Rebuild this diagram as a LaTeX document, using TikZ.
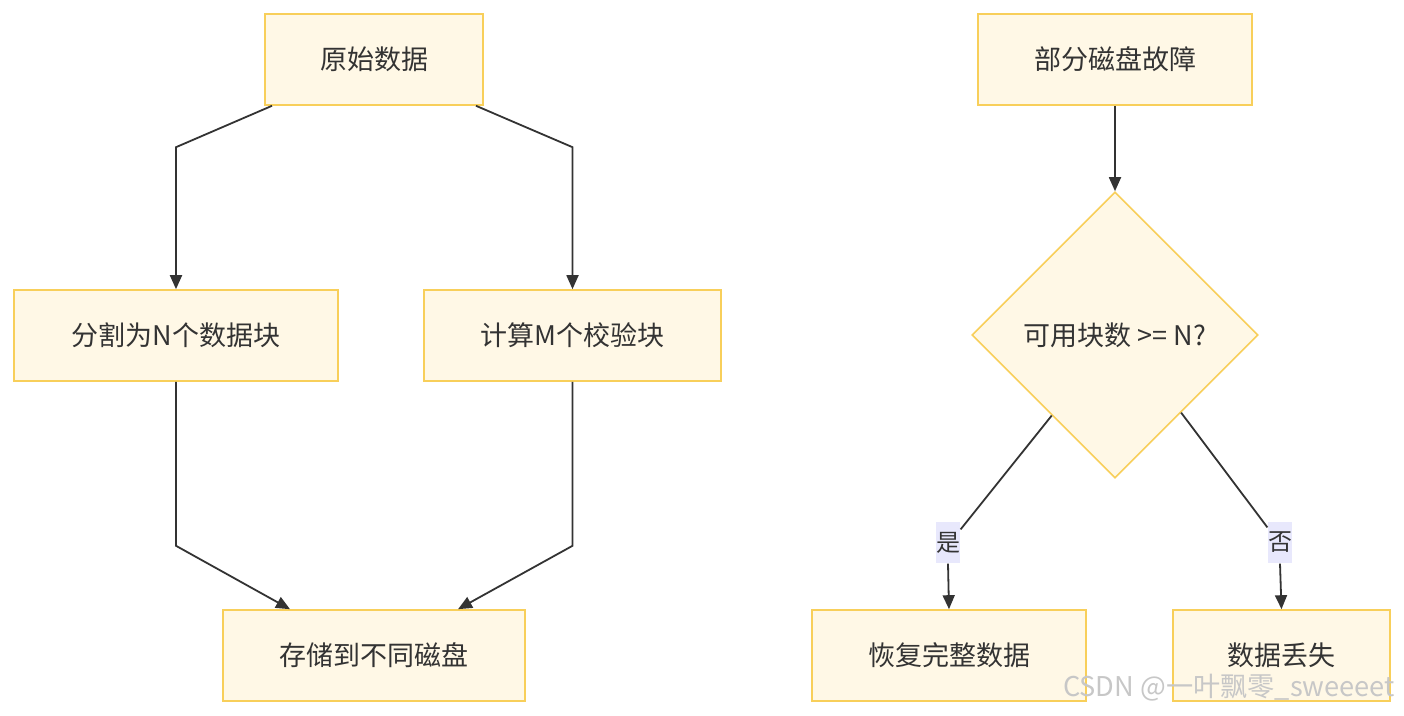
\documentclass[tikz,border=0pt]{standalone}
\usepackage{fontspec}
\setmainfont{Noto Sans CJK SC}
\usetikzlibrary{arrows.meta,positioning,calc,shapes.geometric}

\definecolor{boxfill}{HTML}{FFF8E6}
\definecolor{boxline}{HTML}{F8CF5A}
\definecolor{ink}{HTML}{333333}
\definecolor{lblfill}{HTML}{E8E8FC}

\begin{document}
\begin{tikzpicture}[x=0.5pt, y=-0.5pt, >={Triangle[length=7pt,width=6pt]}, semithick]
\tikzstyle{proc}=[draw=boxline, fill=boxfill, line width=0.8pt, text=ink, font=\fontsize{13.5}{16}\selectfont, minimum height=45.5pt, inner sep=0pt]
\tikzstyle{decision}=[diamond, draw=boxline, fill=boxfill, line width=0.8pt, text=ink, font=\fontsize{13.5}{16}\selectfont, minimum width=143pt, minimum height=143pt, inner sep=0pt]
\tikzstyle{lbl}=[fill=lblfill, text=ink, font=\fontsize{12}{14}\selectfont, minimum width=12pt, minimum height=20.5pt, inner sep=0pt]
\tikzstyle{line}=[draw=ink, line width=0.9pt]
\tikzstyle{arr}=[line, ->]

\useasboundingbox (0,0) rectangle (1404,716);

% left: encoding
\node[proc, minimum width=109pt]   (raw)     at (374,59.5)    {原始数据};
\node[proc, minimum width=162pt]   (split)   at (176,335.5)   {分割为N个数据块};
\node[proc, minimum width=148.5pt] (check)   at (572.5,335.5) {计算M个校验块};
\node[proc, minimum width=151pt]   (store)   at (374,655.5)   {存储到不同磁盘};

% right: recovery
\node[proc, minimum width=137pt]   (fault)   at (1115,59.5)   {部分磁盘故障};
\node[decision]                    (dia)     at (1115,335)    {可用块数 >= N?};
\node[proc, minimum width=137pt]   (recover) at (949,655.5)   {恢复完整数据};
\node[proc, minimum width=108.5pt] (lost)    at (1281.5,655.5) {数据丢失};

\path[arr] ($(raw.south)+(-102,0)$) -- ($(split.north)+(0,-142)$) -- (split.north);
\path[arr] ($(raw.south)+(102,0)$) -- ($(check.north)+(0,-142)$) -- (check.north);
\path[arr] (split.south) -- ++(0,164) -- ($(store.north)+(-84,0)$);
\path[arr] (check.south) -- ++(0,164) -- ($(store.north)+(84,0)$);

\path[arr] (fault.south) -- (dia.north);

\node[lbl] (yes) at (948,542.5)  {是};
\node[lbl] (no)  at (1280,542.5) {否};
\path[line] ($(dia.west)!0.56!(dia.south)$) -- ($(yes.north east)+(0,8)$);
\path[arr]  (yes.south) -- (recover.north);
\path[line] ($(dia.east)!0.54!(dia.south)$) -- ($(no.north west)+(0,6)$);
\path[arr]  (no.south) -- (lost.north);

\node[text=black!22, font=\fontsize{13.6}{15}\selectfont, anchor=east] (mark) at (1402,688) {CSDN @一叶飘零\_sweeeet};
\end{tikzpicture}
\end{document}
